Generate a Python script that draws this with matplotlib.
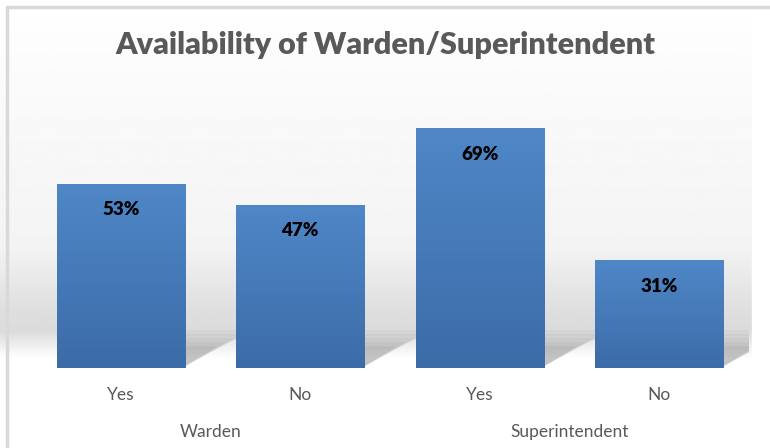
import matplotlib
matplotlib.use("Agg")
import matplotlib.pyplot as plt
import matplotlib.patches as patches
import matplotlib.transforms as mtransforms
from matplotlib.colors import LinearSegmentedColormap
import numpy as np

# data
groups = ["Warden", "Superintendent"]
answers = ["Yes", "No", "Yes", "No"]
values = [53, 47, 69, 31]

plt.rcParams['font.family'] = ['Lato', 'DejaVu Sans']

fig = plt.figure(figsize=(7.7, 4.48), dpi=100)

# background: light gradient with a grey "floor" band
bg = fig.add_axes([0, 0, 1, 1], zorder=0)
bg.axis('off')
rows = np.linspace(0, 1, 448)
stops_y = [0.0, 0.15, 0.55, 0.70, 0.74, 0.77, 0.80, 1.0]
stops_v = [1.0, 0.985, 0.955, 0.87, 0.86, 0.93, 1.0, 1.0]
shade = np.interp(rows, stops_y, stops_v)
grad = np.repeat(shade[:, None], 10, axis=1)
bg.imshow(grad, cmap='gray', vmin=0, vmax=1, aspect='auto',
          extent=[0, 1, 0, 1], origin='upper')
bg.set_xlim(0, 1)
bg.set_ylim(0, 1)
# white strip on the right where floor ends
bg.add_patch(patches.Rectangle((752 / 770, 0), 1, 1, color='white', zorder=2))
# chart border
bg.add_patch(patches.Rectangle((7 / 770, -0.05), 1.1, 1 - 7 / 448 + 0.05,
                               fill=False, edgecolor='#d9d9d9', lw=2.5, zorder=3))

ax = fig.add_axes([31 / 770, 1 - 368 / 448, 718 / 770, (368 - 90) / 448], zorder=1)
ax.patch.set_alpha(0)
x = np.arange(len(values))
bars = ax.bar(x, values, width=0.715, color='#4a7ebb', zorder=3)
ax.set_xlim(-0.5, len(values) - 0.5)
ax.set_ylim(0, 80)
for s in ax.spines.values():
    s.set_visible(False)
ax.set_yticks([])
ax.set_xticks(x)
ax.set_xticklabels(answers, fontsize=12.5, color='#595959')
ax.tick_params(axis='x', length=0, pad=14)

# bar gradient + shadow
cmap = LinearSegmentedColormap.from_list('bar', ['#4f87c7', '#3c6ca8'])
for b in bars:
    x0, w, h = b.get_x(), b.get_width(), b.get_height()
    im = ax.imshow(np.linspace(0, 1, 100)[:, None], cmap=cmap, aspect='auto',
                   extent=[x0, x0 + w, 0, h], origin='upper', zorder=3.5)
    im.set_clip_path(b)
    # soft shadow to the right on the floor
    for k, a in enumerate([0.06, 0.07, 0.08, 0.09, 0.1]):
        dx = 0.05 * k
        sh = patches.Polygon([(x0 + w * 0.3, 0.5), (x0 + w, 0.5),
                              (x0 + w + 0.38 - dx, 11 - 1.2 * k),
                              (x0 + w * 0.3 + 0.38, 11 - 1.2 * k)],
                             closed=True, facecolor='#555555', edgecolor='none',
                             alpha=a, zorder=2)
        ax.add_patch(sh)
    ax.set_aspect('auto')

for b, v in zip(bars, values):
    ax.annotate(f"{v}%", (b.get_x() + b.get_width() / 2, v),
                xytext=(0, -26), textcoords='offset pixels',
                ha='center', va='center', fontsize=13.5, fontweight='heavy',
                color='black', zorder=5)

# group labels
trans = mtransforms.blended_transform_factory(ax.transData, fig.transFigure)
for i, g in enumerate(groups):
    ax.text(2 * i + 0.5, 1 - 432 / 448, g, transform=trans, ha='center',
            va='center', fontsize=12.5, color='#595959')

fig.text(0.5, 1 - 45 / 448, "Availability of Warden/Superintendent",
         ha='center', va='center', fontsize=22, fontweight='heavy', color='#595959')

fig.savefig("out.png", dpi=100)
